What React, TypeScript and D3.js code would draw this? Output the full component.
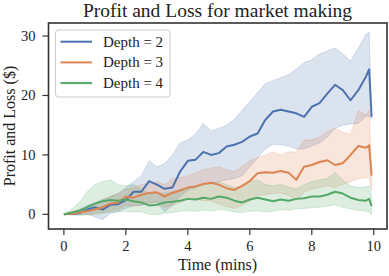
import React from 'react';
import * as d3 from 'd3';

// time grid (mins)
const timeMins: number[] = [0, 0.25, 0.5, 0.75, 1, 1.25, 1.5, 1.75, 2, 2.25, 2.5, 2.75, 3, 3.25, 3.5, 3.75, 4, 4.25, 4.5, 4.75, 5, 5.25, 5.5, 5.75, 6, 6.25, 6.5, 6.75, 7, 7.25, 7.5, 7.75, 8, 8.25, 8.5, 8.75, 9, 9.25, 9.5, 9.75, 9.85, 9.93];

const depth2Mean: number[] = [0, 0.1, 0.2, 0.8, 1.2, 0.8, 1.6, 1.7, 2.4, 3.8, 3.8, 5.6, 5.0, 4.3, 4.5, 7.2, 9.0, 9.2, 10.5, 10.0, 10.3, 11.4, 11.7, 12.2, 13.1, 13.6, 15.9, 17.3, 17.6, 17.3, 17.0, 16.4, 18.1, 18.7, 20.3, 21.8, 20.9, 19.2, 20.9, 23.2, 24.4, 16.4];
const depth2Upper: number[] = [0, 0.3, 0.8, 1.5, 2.0, 2.5, 3.0, 3.5, 4.5, 5.5, 6.5, 9.0, 8.0, 8.5, 10.0, 12.0, 12.5, 13.5, 15.3, 14.0, 14.5, 15.0, 16.0, 17.5, 19.0, 20.5, 22.0, 22.5, 23.0, 23.5, 24.5, 25.5, 26.0, 27.0, 27.5, 28.0, 27.0, 25.8, 28.0, 30.3, 30.7, 17.0];
const depth2Lower: number[] = [0, -0.1, 0, 0, -0.4, -0.9, 0.2, 0.5, 1.0, 1.5, 1.5, 2.0, 2.0, 0.4, 1.5, 3.0, 4.0, 4.5, 5.0, 5.2, 5.5, 5.8, 6.0, 6.5, 8.0, 9.5, 11.0, 11.8, 11.7, 11.5, 11.0, 11.0, 11.5, 12.0, 13.0, 14.5, 15.0, 15.2, 15.3, 16.5, 16.5, 16.0];

const depth3Mean: number[] = [0, 0.1, 0.3, 0.5, 0.8, 1.2, 1.8, 2.0, 3.0, 2.8, 3.3, 3.6, 3.7, 3.0, 3.6, 4.0, 4.5, 4.7, 5.1, 5.3, 5.0, 4.4, 4.1, 4.8, 5.6, 6.9, 7.1, 7.0, 7.3, 7.0, 5.8, 8.0, 8.3, 8.8, 9.1, 8.3, 8.6, 10.0, 11.5, 11.2, 11.6, 6.5];
const depth3Upper: number[] = [0, 0.4, 0.8, 1.2, 1.5, 2.5, 3.0, 3.5, 4.2, 4.5, 5.0, 5.2, 5.5, 5.0, 6.0, 6.2, 6.5, 7.0, 7.5, 7.8, 8.0, 7.5, 7.2, 8.0, 9.0, 9.5, 10.0, 10.5, 10.0, 10.5, 10.5, 12.5, 12.5, 13.0, 14.0, 14.5, 13.8, 13.5, 17.5, 16.7, 17.5, 6.8];
const depth3Lower: number[] = [0, -0.1, 0, 0, 0.2, 0.3, 0.6, 0.8, 1.5, 1.4, 1.6, 1.8, 2.0, 1.2, 1.5, 2.0, 2.5, 2.5, 2.3, 2.2, 1.8, 1.3, 1.0, 1.5, 2.2, 3.2, 3.3, 3.5, 3.6, 3.2, 2.3, 3.8, 4.2, 4.5, 4.8, 4.5, 5.0, 5.5, 6.0, 6.2, 6.3, 4.0];

const depth4Mean: number[] = [0, 0.3, 0.6, 1.2, 1.8, 2.2, 2.4, 2.3, 2.5, 2.2, 2.0, 1.5, 1.6, 2.0, 2.1, 2.3, 2.6, 2.5, 2.8, 2.6, 3.0, 2.8, 2.3, 2.0, 2.5, 2.8, 2.5, 2.2, 2.5, 2.3, 2.6, 2.7, 3.0, 3.0, 3.3, 3.8, 3.5, 2.8, 2.4, 2.3, 2.6, 1.4];
const depth4Upper: number[] = [0, 0.8, 2.0, 3.8, 5.0, 5.5, 5.8, 5.0, 4.8, 5.0, 4.2, 3.5, 3.5, 3.6, 3.8, 4.2, 4.5, 4.8, 5.0, 5.2, 5.5, 5.0, 4.5, 4.8, 5.5, 5.8, 5.0, 4.8, 5.0, 4.6, 4.2, 5.0, 5.5, 5.8, 6.0, 7.0, 5.8, 4.8, 4.5, 4.6, 4.8, 3.0];
const depth4Lower: number[] = [0, -0.1, -0.2, -0.1, 0, 0.2, 0.3, 0.4, 0.5, 0.4, 0.4, 0, -0.1, 0.2, 0.3, 0.5, 0.6, 0.5, 0.7, 0.6, 0.8, 0.7, 0.4, 0.3, 0.5, 0.6, 0.4, 0.5, 0.8, 0.7, 0.9, 1.0, 1.1, 1.2, 1.4, 1.6, 1.2, 0.9, 0.7, 0.5, 0.4, -0.1];

const seriesNames: string[] = ['Depth = 2', 'Depth = 3', 'Depth = 4'];
const seriesColors: string[] = ['#4c72b0', '#dd8452', '#55a868'];
const xTicks: number[] = [0, 2, 4, 6, 8, 10];
const yTicks: number[] = [0, 10, 20, 30];

const W = 389;
const H = 276;
const left = 48.5, right = 387, top = 23, bottom = 229;

const App = () => {
  const x = d3.scaleLinear().domain([-0.4965, 10.4265]).range([left, right]);
  const y = d3.scaleLinear().domain([-2.47, 32.2]).range([bottom, top]);

  const series = [
    { mean: depth2Mean, lo: depth2Lower, hi: depth2Upper },
    { mean: depth3Mean, lo: depth3Lower, hi: depth3Upper },
    { mean: depth4Mean, lo: depth4Lower, hi: depth4Upper },
  ];

  const area = (lo: number[], hi: number[]) =>
    d3.area<number>()
      .x((d, i) => x(timeMins[i]))
      .y0((d, i) => y(lo[i]))
      .y1((d, i) => y(hi[i]))(timeMins);
  const line = (vals: number[]) =>
    d3.line<number>()
      .x((d, i) => x(timeMins[i]))
      .y((d, i) => y(vals[i]))(timeMins);

  const font = "'Liberation Serif', 'Times New Roman', serif";

  return (
    <svg width={W} height={H} style={{ position: 'absolute', left: 0, top: 0, background: 'white' }} fontFamily={font}>
      <defs>
        <clipPath id="plotclip">
          <rect x={left} y={top} width={right - left} height={bottom - top} />
        </clipPath>
      </defs>
      <text x={217.5} y={16.5} textAnchor="middle" fontSize={19.5} fill="#222">Profit and Loss for market making</text>

      <g clipPath="url(#plotclip)">
        {series.map((s, i) => (
          <path key={'a' + i} d={area(s.lo, s.hi) || ''} fill={seriesColors[i]} fillOpacity={0.2} stroke={seriesColors[i]} strokeOpacity={0.2} strokeWidth={1} />
        ))}
        {series.map((s, i) => (
          <path key={'l' + i} d={line(s.mean) || ''} fill="none" stroke={seriesColors[i]} strokeWidth={2} strokeLinejoin="round" />
        ))}
      </g>

      <rect x={left} y={top} width={right - left} height={bottom - top} fill="none" stroke="#333" strokeWidth={1.6} />

      {xTicks.map(t => (
        <g key={'x' + t}>
          <line x1={x(t)} x2={x(t)} y1={bottom} y2={bottom + 6} stroke="#333" strokeWidth={1.2} />
          <text x={x(t)} y={bottom + 22} textAnchor="middle" fontSize={14.5} fill="#222">{t}</text>
        </g>
      ))}
      {yTicks.map(t => (
        <g key={'y' + t}>
          <line x1={left - 6} x2={left} y1={y(t)} y2={y(t)} stroke="#333" strokeWidth={1.2} />
          <text x={35.5} y={y(t) + 5} textAnchor="end" fontSize={14.5} fill="#222">{t}</text>
        </g>
      ))}

      <text x={217.5} y={270} textAnchor="middle" fontSize={16} fill="#222">Time (mins)</text>
      <text transform={`translate(14.5, ${(top + bottom) / 2}) rotate(-90)`} textAnchor="middle" fontSize={16} fill="#222">Profit and Loss ($)</text>

      <g>
        <rect x={55.5} y={30} width={114.5} height={67} rx={3} fill="white" fillOpacity={0.8} stroke="#ccc" strokeWidth={1} />
        {seriesNames.map((n, i) => (
          <g key={n}>
            <line x1={60.5} x2={92} y1={41.7 + i * 20.7} y2={41.7 + i * 20.7} stroke={seriesColors[i]} strokeWidth={2} />
            <text x={103} y={41.7 + i * 20.7 + 5} fontSize={15} fill="#222">{n}</text>
          </g>
        ))}
      </g>
    </svg>
  );
};

export default App;
